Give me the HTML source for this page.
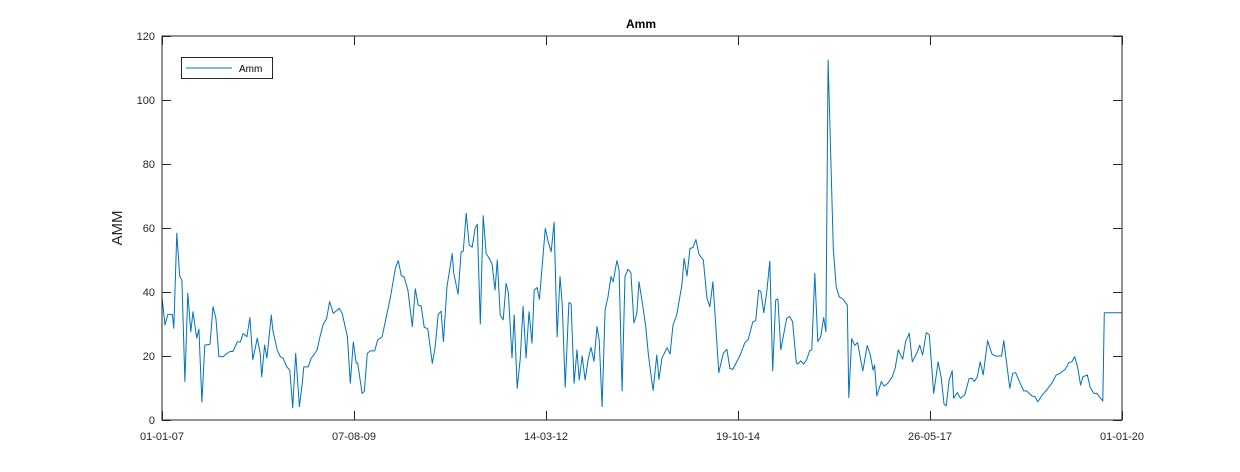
<!DOCTYPE html>
<html><head><meta charset="utf-8"><style>
html,body{margin:0;padding:0;background:#fff;}
svg{display:block;font-family:"Liberation Sans",Arial,sans-serif;}
</style></head><body>
<svg id="chart" width="1240" height="472">
<rect x="0" y="0" width="1240" height="472" fill="#fff"/>
<rect x="162" y="36" width="960" height="384" fill="#fff"/>
<g id="grid"></g>
<path id="series" fill="none" stroke="#0072bd" stroke-width="1" stroke-linejoin="round"/>
<rect x="162" y="36" width="960" height="384" fill="none" stroke="#262626" stroke-width="1"/>
<text x="641" y="28" text-anchor="middle" font-size="12" font-weight="bold" fill="#000">Amm</text>
<text transform="translate(122,228) rotate(-90)" text-anchor="middle" font-size="15" fill="#262626">AMM</text>
<g>
<rect x="181.5" y="57.5" width="91" height="21" fill="#fff" stroke="#262626" stroke-width="1"/>
<line x1="186" y1="68" x2="232" y2="68" stroke="#0072bd" stroke-width="1"/>
<text x="239" y="72" font-size="10" fill="#000">Amm</text>
</g>
</svg>
<script>
const yTicks=[0,20,40,60,80,100,120];
const xTickYears=[0,2.6,5.2,7.8,10.4,13];
const xTickLabels=["01-01-07","07-08-09","14-03-12","19-10-14","26-05-17","01-01-20"];
const times=[0,0.04,0.08,0.14,0.16,0.20,0.24,0.27,0.31,0.35,0.39,0.42,0.47,0.50,0.54,0.58,0.65,0.69,0.73,0.77,0.83,0.88,0.92,0.96,1.02,1.06,1.10,1.15,1.19,1.23,1.29,1.33,1.35,1.39,1.42,1.48,1.50,1.56,1.60,1.64,1.69,1.73,1.77,1.81,1.86,1.90,1.92,1.98,2.02,2.04,2.10,2.14,2.18,2.23,2.27,2.32,2.36,2.40,2.44,2.51,2.55,2.59,2.63,2.65,2.71,2.74,2.78,2.82,2.88,2.92,2.98,3.09,3.16,3.20,3.24,3.28,3.33,3.39,3.43,3.47,3.51,3.55,3.60,3.66,3.70,3.74,3.78,3.81,3.86,3.93,3.95,4.01,4.05,4.08,4.12,4.16,4.20,4.24,4.27,4.31,4.35,4.39,4.43,4.47,4.51,4.54,4.58,4.62,4.66,4.69,4.74,4.77,4.81,4.85,4.89,4.93,4.97,5.01,5.04,5.08,5.11,5.19,5.23,5.27,5.31,5.35,5.39,5.42,5.46,5.51,5.54,5.58,5.62,5.65,5.69,5.73,5.77,5.81,5.85,5.89,5.92,5.96,6.00,6.04,6.08,6.11,6.16,6.19,6.23,6.27,6.31,6.35,6.39,6.43,6.46,6.51,6.55,6.59,6.65,6.70,6.73,6.77,6.84,6.88,6.92,6.97,7.04,7.07,7.11,7.15,7.19,7.23,7.27,7.33,7.38,7.42,7.46,7.54,7.60,7.65,7.69,7.73,7.83,7.89,7.94,8.00,8.04,8.08,8.11,8.15,8.19,8.23,8.27,8.31,8.34,8.38,8.46,8.50,8.54,8.59,8.61,8.65,8.69,8.73,8.77,8.80,8.84,8.88,8.92,8.96,8.99,9.02,9.09,9.13,9.17,9.22,9.28,9.30,9.34,9.38,9.42,9.49,9.55,9.59,9.63,9.65,9.68,9.74,9.78,9.83,9.89,9.93,9.97,10.03,10.07,10.12,10.16,10.22,10.26,10.30,10.35,10.39,10.45,10.51,10.55,10.59,10.62,10.66,10.70,10.72,10.77,10.81,10.87,10.93,10.97,11.00,11.04,11.08,11.12,11.18,11.24,11.29,11.37,11.40,11.48,11.52,11.56,11.62,11.67,11.71,11.78,11.82,11.86,11.92,11.98,12.05,12.11,12.16,12.23,12.28,12.32,12.36,12.40,12.44,12.47,12.53,12.57,12.62,12.66,12.74,12.76,13.00];
const values=[38.5,29.7,33,33,28.7,58.4,45,43.7,12,39.6,27.6,33.8,25.6,28.4,5.6,23.4,23.7,35.4,31.8,19.8,19.8,20.8,21.4,21.4,24.4,24.4,27,26,32,18.8,25.6,20.8,13.5,23.4,19.3,32.8,28.1,21.9,19.8,19.3,16.6,15.6,3.8,20.8,4.2,11.5,16.6,16.6,19.3,19.8,21.9,26,29.7,31.8,37,33.3,34.1,34.9,33.3,26,11.5,24.4,17.8,17.8,8.3,8.9,20.8,21.6,21.6,25,26,38,47.4,49.8,45.1,44.7,40.6,29.2,41,35.9,35.6,29,28.5,17.7,22.9,33,34,24.5,41.7,52,46,39.3,52.5,52.8,64.6,54.7,54,59.9,61.2,30,63.8,52,50.6,48.7,40.6,50,32.8,31.3,42.7,40,19.4,32.8,9.9,19,35.5,19.4,33.8,24,40.6,41.4,37.7,59.9,55.7,52.6,61.8,26,44.8,36.5,10.2,36.7,36.3,11.5,21.9,12.5,20,12.5,18.8,22.7,18.3,29.2,25,4.2,34.4,38.5,44.8,43.2,49.8,46.9,9.1,44.8,47.1,46,30.3,33.3,43.2,35.9,29.2,19.8,9.2,20.3,12.7,19.3,22.6,20.6,29.7,32.8,42.2,50.5,45,53.6,53.9,56.4,51.8,50,38,35.4,43.2,14.8,20.8,22.1,16.1,15.8,20.3,24,25.2,30.7,31,40.6,40.1,33.5,40.1,49.6,15.4,37.5,37.8,21.9,31.8,32.3,30.7,17.9,17.5,18.5,17.5,18.9,21.6,21.9,45.8,24.5,26,32,27.6,112.5,53.6,41.6,38.5,37.8,35.9,7,25.4,23.3,24.2,15.3,23.3,20.5,15.6,17.2,7.5,12,10.6,11.5,13.5,16.4,21.9,19,24.5,27.1,18.2,20.8,23.4,20.3,27.3,26.6,8.3,18.2,13.5,5,4.4,12.5,15.4,6.8,8.6,6.8,7.8,12.9,13,12,13.5,18.2,14.1,24.8,20.6,20,20,24.8,9.9,14.6,14.8,11.5,9.1,9.1,7.5,7.3,5.7,7.8,9.4,11.5,14.1,14.6,15.8,17.9,18.2,19.8,16.4,10.9,13.5,14.1,10.2,8.3,8.3,5.9,33.5,33.5];

const X0=162,X1=1122,Y0=420,Y1=36;
function xs(t){return X0+(t-0)/(13-0)*(X1-X0);}
function ys(v){return Y0-(v-0)/(120-0)*(Y0-Y1);}
const NS="http://www.w3.org/2000/svg";
const g=document.getElementById('grid');
function mk(tag,attrs){const e=document.createElementNS(NS,tag);for(const k in attrs)e.setAttribute(k,attrs[k]);return e;}
yTicks.forEach(v=>{
  const y=Math.round(ys(v))+0.5;
  const t1=mk('line',{x1:X0,x2:X0+9,y1:y,y2:y,stroke:'#262626'});
  
  
  g.appendChild(t1);
  const t2=mk('line',{x1:X1-9,x2:X1,y1:y,y2:y,stroke:'#262626'});
  
  
  g.appendChild(t2);
  const tx=mk('text',{x:X0-7,y:ys(v)+4,'text-anchor':'end','font-size':'11',fill:'#262626'});
  tx.textContent=v;
  
  
  g.appendChild(tx);
});
xTickYears.forEach((t,i)=>{
  const x=Math.round(xs(t))+0.5;
  const t1=mk('line',{x1:x,x2:x,y1:Y0-9,y2:Y0,stroke:'#262626'});
  
  
  g.appendChild(t1);
  const t2=mk('line',{x1:x,x2:x,y1:Y1,y2:Y1+9,stroke:'#262626'});
  
  
  g.appendChild(t2);
  const tx=mk('text',{x:xs(t),y:Y0+20,'text-anchor':'middle','font-size':'11',fill:'#262626'});
  tx.textContent=xTickLabels[i];
  
  
  g.appendChild(tx);
});
let d='';
times.forEach((t,i)=>{d+=(i?'L':'M')+xs(t).toFixed(1)+' '+ys(values[i]).toFixed(1);});
document.getElementById('series').setAttribute('d',d);
</script>
</body></html>
